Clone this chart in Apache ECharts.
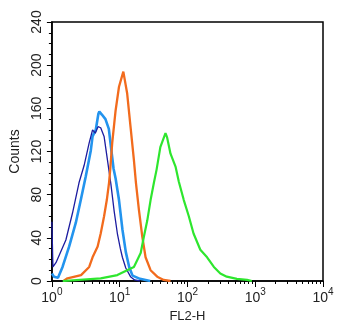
<!DOCTYPE html>
<html>
<head>
<meta charset="utf-8">
<script src="https://cdn.jsdelivr.net/npm/echarts@6/dist/echarts.min.js"></script>
<style>
  html, body { margin: 0; padding: 0; background: #fff; }
  #chart { width: 350px; height: 331px; }
</style>
</head>
<body>
<div id="chart"></div>
<script>
// x values are log10(FL2-H), y values are counts
const navyX = [0, 0.015, 0.06, 0.206, 0.304, 0.40, 0.475, 0.55, 0.60, 0.64, 0.68, 0.72, 0.77, 0.82, 0.87, 0.92, 0.966, 1.01, 1.04, 1.09, 1.16, 1.22, 1.3]
const navyY = [55, 13, 17, 38, 63, 91, 107, 128, 140, 137, 143, 142, 134, 112, 90, 64, 44, 30, 22, 12, 4, 1, 0]

const blueX = [0, 0.03, 0.09, 0.157, 0.255, 0.353, 0.426, 0.5, 0.574, 0.6, 0.647, 0.686, 0.70, 0.74, 0.79, 0.84, 0.87, 0.91, 0.94, 0.99, 1.04, 1.09, 1.14, 1.19, 1.3, 1.45]
const blueY = [7, 4, 3, 13, 32, 54, 75, 97, 121, 134, 140, 155, 157, 154, 150, 141, 125, 104, 95, 75, 48, 27, 13, 5, 2, 0]

const orangeX = [0.17, 0.23, 0.43, 0.55, 0.60, 0.675, 0.72, 0.77, 0.81, 0.843, 0.86, 0.89, 0.94, 0.99, 1.054, 1.11, 1.16, 1.21, 1.24, 1.284, 1.334, 1.382, 1.456, 1.554, 1.65, 1.75]
const orangeY = [0, 2.5, 5.5, 13, 22, 32, 44, 60, 75, 91, 103, 128, 158, 180, 194, 174, 143, 112, 91, 66, 41, 22, 10, 4, 1, 0]

const greenX = [0.16, 0.72, 0.966, 1.11, 1.21, 1.31, 1.357, 1.407, 1.456, 1.505, 1.544, 1.60, 1.676, 1.70, 1.75, 1.824, 1.873, 1.946, 2.02, 2.09, 2.19, 2.29, 2.39, 2.485, 2.58, 2.73, 2.88, 2.95]
const greenY = [0, 2.5, 5.5, 10, 13, 26, 41, 56, 75, 91, 103, 124, 137, 133, 118, 106, 92, 75, 60, 44, 29, 22, 13, 7, 4, 2, 1, 0]

const decades = [0, 1, 2, 3, 4]
const minorFactors = [2, 3, 4, 5, 6, 7, 8, 9]
const yTicks = [0, 40, 80, 120, 160, 200, 240]

let minorTicks = []
decades.slice(0, -1).forEach(d => {
  minorFactors.forEach(f => minorTicks.push(d + Math.log10(f)))
})

function pairs(xs, ys) {
  return xs.map((x, i) => [x, ys[i]])
}

const font = 'Liberation Sans'

let myChart = echarts.init(document.getElementById('chart'))

function line(name, xs, ys, color, width) {
  return {
    type: 'line',
    name,
    data: pairs(xs, ys),
    showSymbol: false,
    symbol: 'none',
    lineStyle: { color, width },
    itemStyle: { color },
    animation: false
  }
}

myChart.setOption({
  backgroundColor: '#fff',
  textStyle: { fontFamily: font },
  grid: {
    left: 51, right: 27, top: 22, bottom: 50,
    show: true, borderColor: '#000', borderWidth: 1.5
  },
  xAxis: [
    {
      type: 'value',
      min: 0, max: 4, interval: 1,
      name: 'FL2-H',
      nameLocation: 'middle',
      nameGap: 25,
      nameTextStyle: { fontSize: 13, color: '#222', fontFamily: font },
      axisLine: { show: true, lineStyle: { color: '#000', width: 1.5 } },
      axisTick: { show: true, inside: false, length: 6, lineStyle: { color: '#000', width: 1 } },
      splitLine: { show: false },
      axisLabel: {
        margin: 6,
        formatter: v => '{b|10}{s|' + v + '}',
        rich: {
          b: { fontSize: 14, color: '#222', fontFamily: font },
          s: { fontSize: 10, color: '#222', fontFamily: font, padding: [0, 0, 12, 0] }
        }
      }
    },
    {
      type: 'value',
      min: 0, max: 4,
      position: 'bottom',
      axisLine: { show: false },
      axisLabel: { show: false },
      splitLine: { show: false },
      axisTick: {
        show: true, inside: false, length: 3,
        customValues: minorTicks,
        lineStyle: { color: '#000', width: 1 }
      }
    }
  ],
  yAxis: {
    type: 'value',
    min: 0, max: 240, interval: 40,
    name: 'Counts',
    nameLocation: 'middle',
    nameGap: 27,
    nameRotate: 90,
    nameTextStyle: { fontSize: 14, color: '#222', fontFamily: font },
    axisLine: { show: true, lineStyle: { color: '#000', width: 1.5 } },
    axisTick: { show: true, inside: false, length: 5, lineStyle: { color: '#000' } },
    minorTick: { show: true, splitNumber: 4, length: 3, lineStyle: { color: '#000' } },
    splitLine: { show: false },
    axisLabel: {
      rotate: 90,
      margin: 8,
      fontSize: 14,
      color: '#222',
      customValues: yTicks
    }
  },
  series: [
    line('blue', blueX, blueY, '#2394ee', 2.6),
    line('navy', navyX, navyY, '#1c1ca0', 1.3),
    line('orange', orangeX, orangeY, '#f26b1d', 2.3),
    line('green', greenX, greenY, '#2ee62e', 2.2)
  ]
})
</script>
</body>
</html>
